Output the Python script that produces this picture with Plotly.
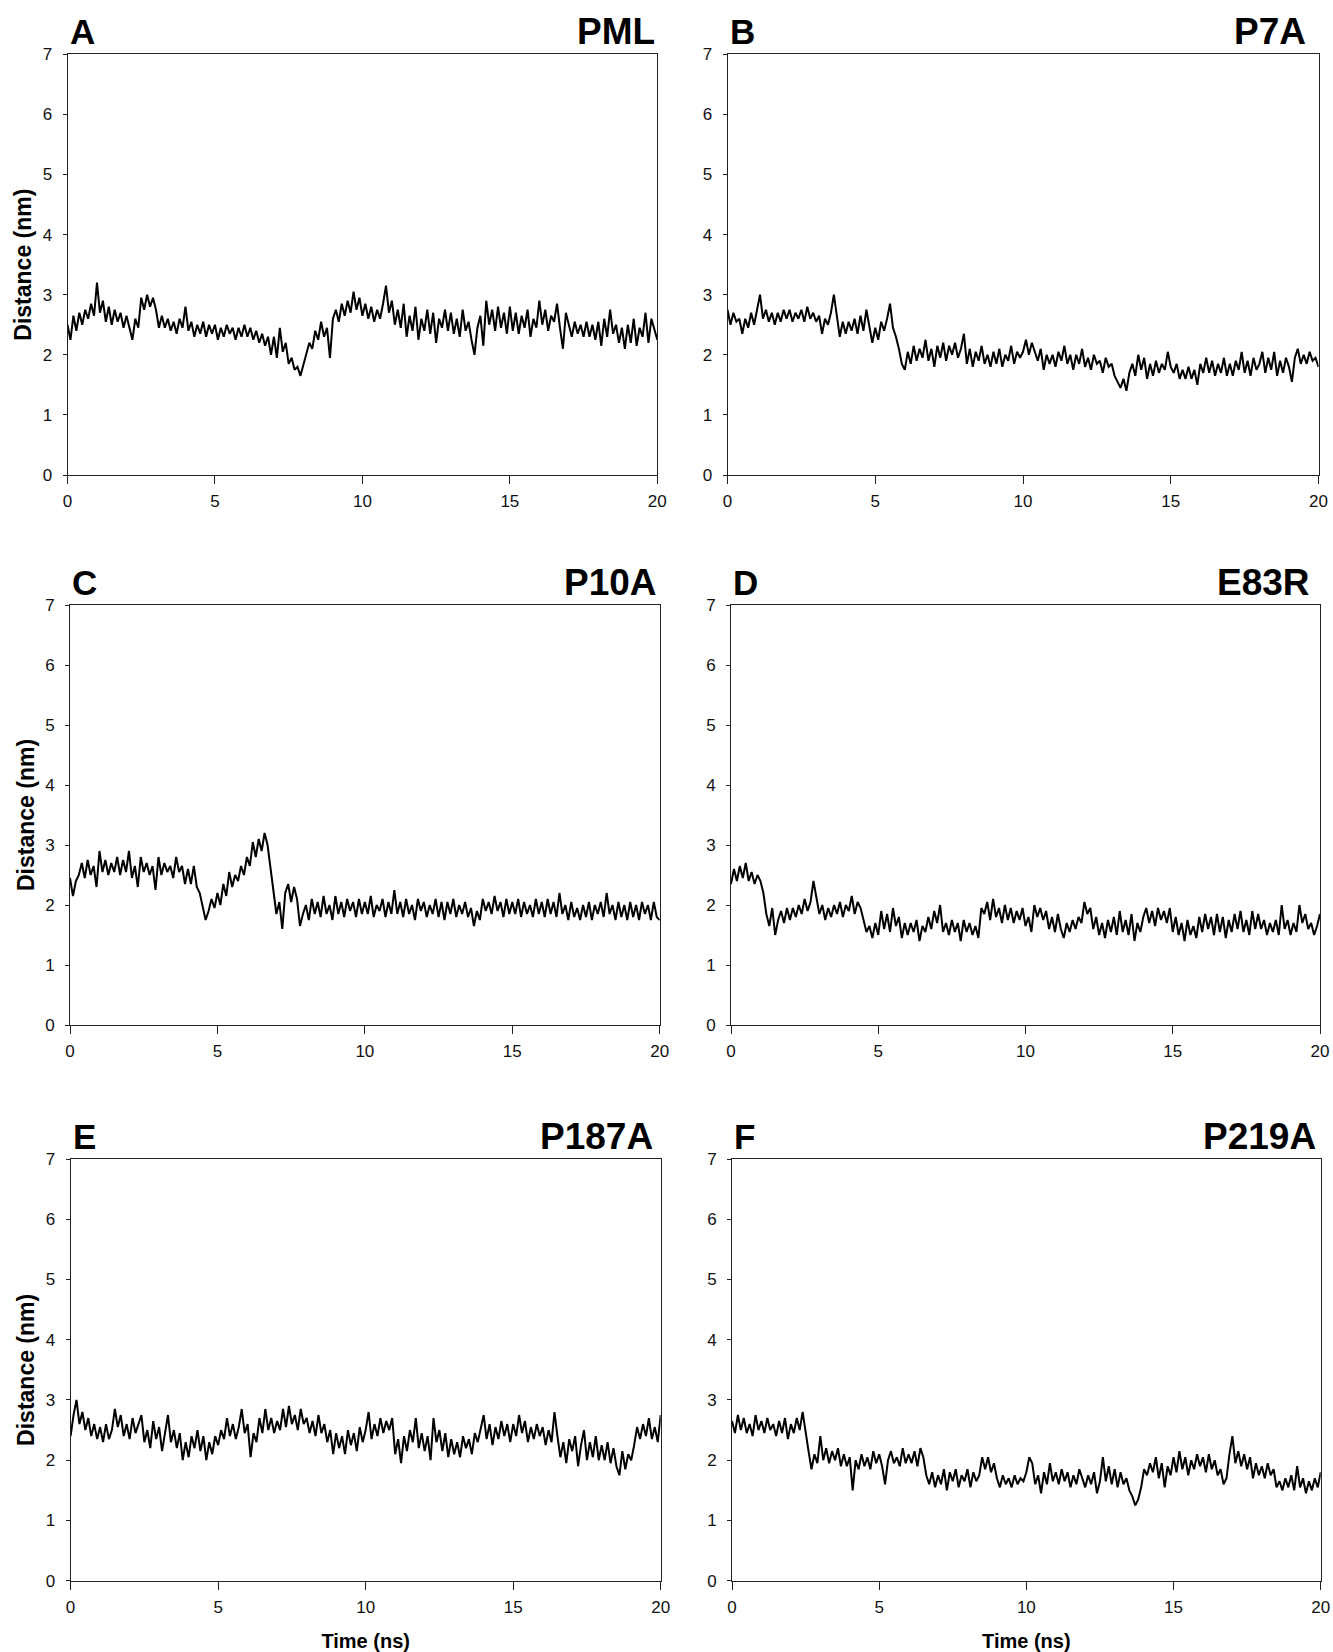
import plotly.graph_objects as go

time_ns = [round(i * 0.1, 1) for i in range(201)]

pml = [
    2.5, 2.25, 2.65, 2.4, 2.7, 2.5, 2.75, 2.6, 2.85, 2.65,
    3.2, 2.7, 2.9, 2.55, 2.8, 2.5, 2.75, 2.55, 2.7, 2.45,
    2.65, 2.45, 2.25, 2.6, 2.45, 2.95, 2.75, 3.0, 2.8, 2.95,
    2.75, 2.45, 2.65, 2.45, 2.6, 2.4, 2.55, 2.35, 2.6, 2.45,
    2.8, 2.4, 2.55, 2.3, 2.5, 2.35, 2.55, 2.3, 2.5, 2.35,
    2.5, 2.25, 2.45, 2.3, 2.5, 2.35, 2.45, 2.25, 2.45, 2.3,
    2.5, 2.3, 2.45, 2.25, 2.4, 2.2, 2.35, 2.15, 2.3, 2.0,
    2.3, 1.95, 2.45, 2.05, 2.2, 1.85, 1.95, 1.75, 1.8, 1.65,
    1.85, 2.0, 2.2, 2.1, 2.4, 2.25, 2.55, 2.3, 2.45, 1.95,
    2.6, 2.75, 2.55, 2.85, 2.65, 2.9, 2.7, 3.05, 2.75, 2.95,
    2.65, 2.85, 2.6, 2.8, 2.55, 2.75, 2.6, 2.85, 3.15, 2.7,
    2.9, 2.5, 2.75, 2.45, 2.85, 2.3, 2.65, 2.4, 2.8, 2.25,
    2.6, 2.4, 2.75, 2.35, 2.7, 2.2, 2.6, 2.45, 2.75, 2.4,
    2.7, 2.35, 2.6, 2.3, 2.75, 2.4, 2.55, 2.25, 2.0, 2.45,
    2.65, 2.15, 2.9, 2.5, 2.75, 2.4, 2.8, 2.45, 2.7, 2.35,
    2.8, 2.4, 2.7, 2.35, 2.65, 2.45, 2.75, 2.3, 2.6, 2.45,
    2.9, 2.5, 2.75, 2.4, 2.65, 2.55, 2.85, 2.45, 2.1, 2.7,
    2.5, 2.3, 2.55, 2.35, 2.5, 2.3, 2.55, 2.3, 2.5, 2.25,
    2.55, 2.15, 2.6, 2.3, 2.75, 2.35, 2.5, 2.2, 2.45, 2.1,
    2.5, 2.2, 2.6, 2.15, 2.45, 2.3, 2.7, 2.2, 2.6, 2.4,
    2.25,
]

p7a = [
    2.75, 2.5, 2.7, 2.55, 2.6, 2.35, 2.6, 2.45, 2.7, 2.5,
    2.75, 3.0, 2.6, 2.75, 2.55, 2.7, 2.5, 2.7, 2.55, 2.75,
    2.6, 2.75, 2.55, 2.7, 2.6, 2.75, 2.55, 2.8, 2.6, 2.7,
    2.55, 2.65, 2.35, 2.6, 2.5, 2.7, 3.0, 2.6, 2.3, 2.55,
    2.35, 2.55, 2.4, 2.6, 2.35, 2.65, 2.4, 2.75, 2.45, 2.2,
    2.45, 2.25, 2.55, 2.4, 2.6, 2.85, 2.45, 2.3, 2.1, 1.85,
    1.75, 2.05, 1.85, 2.15, 1.9, 2.1, 1.95, 2.25, 1.9, 2.1,
    1.8, 2.15, 1.95, 2.2, 1.9, 2.15, 2.0, 2.2, 1.95, 2.1,
    2.35, 1.85, 2.1, 1.8, 2.05, 1.9, 2.15, 1.85, 2.0, 1.8,
    2.05, 1.85, 2.1, 1.8, 2.0, 1.9, 2.15, 1.85, 2.05, 1.95,
    2.05, 2.25, 2.0, 2.2, 2.05, 1.9, 2.1, 1.75, 2.0, 1.85,
    2.0, 1.8, 2.05, 1.9, 2.15, 1.85, 2.0, 1.75, 2.0, 1.85,
    2.1, 1.8, 1.95, 1.75, 2.0, 1.85, 1.9, 1.7, 1.95, 1.8,
    1.85, 1.65, 1.55, 1.45, 1.6, 1.4, 1.7, 1.85, 1.65, 2.0,
    1.75, 1.95, 1.6, 1.85, 1.65, 1.9, 1.7, 1.85, 1.75, 2.05,
    1.8, 1.7, 1.85, 1.6, 1.75, 1.6, 1.8, 1.6, 1.75, 1.5,
    1.85, 1.7, 1.95, 1.7, 1.9, 1.65, 1.85, 1.7, 1.95, 1.65,
    1.85, 1.65, 1.9, 1.75, 2.05, 1.7, 1.9, 1.65, 1.95, 1.75,
    1.85, 2.05, 1.7, 1.95, 1.75, 2.05, 1.65, 1.9, 1.7, 1.95,
    1.8, 1.55, 1.95, 2.1, 1.85, 2.0, 1.85, 2.05, 1.9, 1.95,
    1.8,
]

p10a = [
    2.45, 2.15, 2.4, 2.5, 2.7, 2.45, 2.75, 2.5, 2.65, 2.3,
    2.9, 2.55, 2.75, 2.5, 2.7, 2.55, 2.8, 2.5, 2.75, 2.55,
    2.9, 2.45, 2.65, 2.3, 2.8, 2.55, 2.7, 2.5, 2.65, 2.25,
    2.8, 2.5, 2.7, 2.55, 2.65, 2.45, 2.8, 2.55, 2.65, 2.35,
    2.6, 2.35, 2.65, 2.3, 2.2, 2.0, 1.75, 1.9, 2.1, 1.95,
    2.2, 2.0, 2.35, 2.15, 2.55, 2.3, 2.5, 2.4, 2.65, 2.5,
    2.8, 2.65, 3.05, 2.8, 3.1, 2.9, 3.2, 3.0, 2.6, 2.2,
    1.85, 2.05, 1.6, 2.2, 2.35, 2.05, 2.3, 2.1, 1.65, 1.85,
    2.0, 1.75, 2.1, 1.85, 2.05, 1.8, 2.15, 1.85, 2.0, 1.75,
    2.15, 1.85, 2.05, 1.8, 2.1, 1.9, 2.05, 1.8, 2.1, 1.85,
    2.05, 1.85, 2.15, 1.8, 2.0, 1.9, 2.1, 1.8, 2.05, 1.85,
    2.25, 1.85, 2.05, 1.8, 2.1, 1.85, 2.0, 1.75, 2.1, 1.9,
    2.05, 1.8, 2.0, 1.85, 2.1, 1.8, 2.05, 1.75, 2.05, 1.85,
    2.1, 1.8, 2.0, 1.85, 2.05, 1.8, 1.95, 1.65, 1.9, 1.75,
    2.1, 1.9, 2.05, 1.85, 2.15, 1.9, 2.05, 1.8, 2.1, 1.85,
    2.05, 1.85, 2.1, 1.8, 2.05, 1.85, 2.0, 1.8, 2.1, 1.85,
    2.05, 1.8, 2.1, 1.85, 2.05, 1.8, 2.2, 1.85, 2.0, 1.75,
    2.05, 1.8, 1.95, 1.75, 2.0, 1.8, 2.05, 1.75, 2.0, 1.85,
    2.05, 1.8, 2.2, 1.85, 2.0, 1.75, 2.05, 1.8, 2.0, 1.75,
    2.05, 1.8, 2.0, 1.75, 2.05, 1.85, 2.0, 1.75, 2.05, 1.8,
    1.75,
]

e83r = [
    2.35, 2.6, 2.4, 2.65, 2.45, 2.7, 2.4, 2.55, 2.35, 2.5,
    2.4, 2.2, 1.85, 1.65, 1.95, 1.5, 1.75, 1.9, 1.7, 1.95,
    1.75, 1.95, 1.8, 2.0, 1.85, 2.1, 1.9, 2.05, 2.4, 2.15,
    1.85, 2.0, 1.75, 1.95, 1.8, 2.0, 1.85, 2.05, 1.8, 2.0,
    1.9, 2.15, 1.85, 2.05, 1.95, 1.75, 1.55, 1.65, 1.45, 1.7,
    1.5, 1.9, 1.6, 1.85, 1.55, 1.95, 1.65, 1.8, 1.45, 1.7,
    1.5, 1.7, 1.55, 1.75, 1.4, 1.65, 1.55, 1.8, 1.6, 1.9,
    1.7, 2.0, 1.55, 1.7, 1.5, 1.75, 1.55, 1.7, 1.4, 1.75,
    1.55, 1.7, 1.5, 1.65, 1.45, 1.95, 1.85, 2.05, 1.75, 2.1,
    1.8, 1.95, 1.7, 2.0, 1.75, 1.95, 1.7, 1.9, 1.75, 1.95,
    1.65, 1.8, 1.55, 2.0, 1.8, 1.95, 1.75, 1.9, 1.6, 1.8,
    1.55, 1.85, 1.6, 1.45, 1.7, 1.55, 1.75, 1.6, 1.8, 1.7,
    2.05, 1.85, 1.95, 1.6, 1.8, 1.5, 1.7, 1.45, 1.75, 1.55,
    1.8, 1.5, 1.9, 1.55, 1.75, 1.5, 1.85, 1.4, 1.7, 1.55,
    1.8, 1.95, 1.7, 1.9, 1.65, 1.95, 1.75, 1.9, 1.7, 1.95,
    1.55, 1.8, 1.5, 1.7, 1.4, 1.75, 1.5, 1.65, 1.45, 1.8,
    1.55, 1.85, 1.6, 1.8, 1.5, 1.85, 1.55, 1.8, 1.45, 1.75,
    1.55, 1.85, 1.6, 1.9, 1.55, 1.75, 1.5, 1.9, 1.6, 1.85,
    1.6, 1.75, 1.5, 1.7, 1.55, 1.75, 1.5, 2.0, 1.6, 1.75,
    1.5, 1.7, 1.55, 2.0, 1.7, 1.85, 1.6, 1.7, 1.5, 1.65,
    1.85,
]

p187a = [
    2.4, 2.75, 3.0, 2.6, 2.8, 2.5, 2.7, 2.4, 2.6, 2.35,
    2.55, 2.3, 2.6, 2.35, 2.5, 2.85, 2.55, 2.75, 2.4, 2.6,
    2.35, 2.7, 2.45, 2.6, 2.75, 2.3, 2.5, 2.2, 2.65, 2.35,
    2.55, 2.15, 2.45, 2.75, 2.3, 2.5, 2.2, 2.45, 2.0, 2.3,
    2.05, 2.4, 2.2, 2.5, 2.15, 2.4, 2.0, 2.3, 2.1, 2.4,
    2.25, 2.5, 2.35, 2.7, 2.4, 2.6, 2.35, 2.55, 2.85, 2.45,
    2.6, 2.05, 2.45, 2.3, 2.7, 2.45, 2.85, 2.5, 2.7, 2.45,
    2.65, 2.5, 2.85, 2.55, 2.9, 2.6, 2.75, 2.5, 2.85, 2.6,
    2.7, 2.45, 2.65, 2.4, 2.75, 2.45, 2.6, 2.3, 2.5, 2.1,
    2.45, 2.2, 2.4, 2.1, 2.5, 2.25, 2.45, 2.15, 2.55, 2.3,
    2.5, 2.8, 2.35, 2.6, 2.4, 2.7, 2.45, 2.65, 2.5, 2.7,
    2.1, 2.35, 1.95, 2.4, 2.15, 2.5, 2.3, 2.7, 2.2, 2.45,
    2.15, 2.4, 2.0, 2.7, 2.3, 2.5, 2.15, 2.45, 2.05, 2.35,
    2.1, 2.3, 2.05, 2.4, 2.2, 2.35, 2.1, 2.45, 2.3, 2.55,
    2.75, 2.35, 2.6, 2.25, 2.55, 2.35, 2.65, 2.4, 2.6, 2.3,
    2.6, 2.4, 2.75, 2.45, 2.65, 2.3, 2.55, 2.35, 2.6, 2.4,
    2.55, 2.25, 2.5, 2.3, 2.8, 2.4, 2.05, 2.3, 1.95, 2.35,
    2.15, 2.4, 1.9, 2.25, 2.5, 2.0, 2.3, 2.05, 2.4, 2.0,
    2.25, 2.0, 2.3, 1.95, 2.2, 1.9, 1.75, 2.15, 1.85, 2.1,
    2.0, 2.25, 2.55, 2.35, 2.6, 2.4, 2.7, 2.35, 2.55, 2.3,
    2.75,
]

p219a = [
    2.65, 2.45, 2.75, 2.5, 2.7, 2.45, 2.6, 2.4, 2.75, 2.5,
    2.65, 2.45, 2.7, 2.5, 2.6, 2.4, 2.65, 2.45, 2.7, 2.35,
    2.6, 2.45, 2.7, 2.5, 2.8, 2.45, 2.15, 1.85, 2.1, 1.95,
    2.4, 2.0, 2.2, 1.95, 2.15, 2.0, 2.2, 1.9, 2.1, 1.9,
    2.05, 1.5, 2.0, 1.85, 2.1, 1.9, 2.05, 1.85, 2.15, 1.95,
    2.1, 1.9, 1.6, 2.0, 2.15, 1.95, 2.05, 1.9, 2.2, 1.95,
    2.1, 1.95, 2.15, 1.9, 2.2, 2.05, 1.75, 1.6, 1.8, 1.55,
    1.75, 1.6, 1.85, 1.5, 1.8, 1.65, 1.85, 1.55, 1.75, 1.65,
    1.85, 1.55, 1.8, 1.65, 1.75, 2.05, 1.85, 2.05, 1.8, 1.95,
    1.7, 1.55, 1.75, 1.6, 1.7, 1.55, 1.75, 1.6, 1.7, 1.65,
    1.8, 2.05, 1.95, 1.6, 1.75, 1.45, 1.8, 1.6, 1.95, 1.65,
    1.8, 1.6, 1.85, 1.65, 1.8, 1.55, 1.75, 1.6, 1.85, 1.7,
    1.55, 1.75, 1.6, 1.8, 1.45, 1.65, 2.05, 1.65, 1.9, 1.6,
    1.85, 1.55, 1.8, 1.6, 1.7, 1.5, 1.4, 1.25, 1.35, 1.55,
    1.85, 1.75, 1.95, 1.8, 2.05, 1.7, 1.95, 1.55, 1.9, 1.75,
    2.05, 1.8, 2.15, 1.85, 2.05, 1.75, 2.0, 1.85, 2.1, 1.9,
    2.05, 1.8, 2.1, 1.85, 2.0, 1.75, 1.85, 1.6, 1.7, 2.1,
    2.4, 1.95, 2.15, 1.9, 2.1, 1.85, 2.05, 1.7, 1.95, 1.75,
    1.9, 1.7, 1.95, 1.75, 1.85, 1.55, 1.65, 1.5, 1.7, 1.55,
    1.75, 1.5, 1.9, 1.55, 1.7, 1.45, 1.65, 1.5, 1.7, 1.55,
    1.8,
]

panel_letters = ["A", "B", "C", "D", "E", "F"]
panel_names = ["PML", "P7A", "P10A", "E83R", "P187A", "P219A"]
series = [pml, p7a, p10a, e83r, p187a, p219a]
x_ticks = [0, 5, 10, 15, 20]
y_ticks = [0, 1, 2, 3, 4, 5, 6, 7]

# ---------------- layout geometry (pixels in a 1333 x 1652 page) ----------------
W, H = 1333, 1652
px_x = [(67.5, 657.3), (727.5, 1318.5), (70.0, 659.7), (731.0, 1320.0), (70.6, 660.7), (732.0, 1320.7)]
px_y = [(54.3, 475.0), (54.3, 475.0), (605.0, 1025.0), (605.0, 1025.0), (1159.0, 1580.7), (1159.0, 1580.7)]
label_mid_y = [31.6, 31.6, 582.2, 582.2, 1136.5, 1136.5]
name_right_inset = [0, 11, 1, 8, 6, 3]

FONT = "Liberation Sans, Arial, sans-serif"

fig = go.Figure()
annotations = []
for i in range(6):
    n = "" if i == 0 else str(i + 1)
    fig.add_trace(go.Scatter(
        x=time_ns, y=series[i], mode="lines",
        line=dict(color="black", width=2.0),
        xaxis="x" + n, yaxis="y" + n, showlegend=False,
        name=panel_names[i],
    ))
    x0, x1 = px_x[i]
    y0, y1 = px_y[i]
    xa = dict(
        domain=[x0 / W, x1 / W], range=[0, 20], anchor="y" + n,
        tickmode="array", tickvals=x_ticks, ticks="outside", ticklen=8,
        tickcolor="#222", tickwidth=1, showline=True, linecolor="#222",
        linewidth=1, mirror=True, showgrid=False, zeroline=False,
        tickfont=dict(family=FONT, size=17, color="#111"),
        ticklabelstandoff=3, automargin=False,
    )
    ya = dict(
        domain=[1 - y1 / H, 1 - y0 / H], range=[0, 7], anchor="x" + n,
        tickmode="array", tickvals=y_ticks, ticks="outside", ticklen=4,
        tickcolor="#222", tickwidth=1, showline=True, linecolor="#222",
        linewidth=1, mirror=True, showgrid=False, zeroline=False,
        tickfont=dict(family=FONT, size=17, color="#111"),
        ticklabelstandoff=7, automargin=False,
    )
    if i % 2 == 0:
        ya["title"] = dict(text="<b>Distance (nm)</b>", standoff=4,
                           font=dict(family=FONT, size=23, color="black"))
    if i >= 4:
        xa["title"] = dict(text="<b>Time (ns)</b>", standoff=18,
                           font=dict(family=FONT, size=20, color="black"))
    fig.update_layout({"xaxis" + n: xa, "yaxis" + n: ya})

    annotations.append(dict(
        text="<b>%s</b>" % panel_letters[i], xref="paper", yref="paper",
        x=x0 / W, y=1 - label_mid_y[i] / H, xanchor="left", yanchor="middle",
        showarrow=False, font=dict(family=FONT, size=35, color="black"),
    ))
    annotations.append(dict(
        text="<b>%s</b>" % panel_names[i], xref="paper", yref="paper",
        x=(x1 - name_right_inset[i]) / W, y=1 - label_mid_y[i] / H,
        xanchor="right", yanchor="middle",
        showarrow=False, font=dict(family=FONT, size=37, color="black"),
    ))

fig.update_layout(
    width=W, height=H,
    margin=dict(l=0, r=0, t=0, b=0, autoexpand=False),
    paper_bgcolor="white", plot_bgcolor="white",
    annotations=annotations,
    font=dict(family=FONT, color="black"),
)

fig.write_html(
    "out.html",
    config={"displayModeBar": False},
    post_script="document.body.style.margin='0';document.body.style.padding='0';",
)
